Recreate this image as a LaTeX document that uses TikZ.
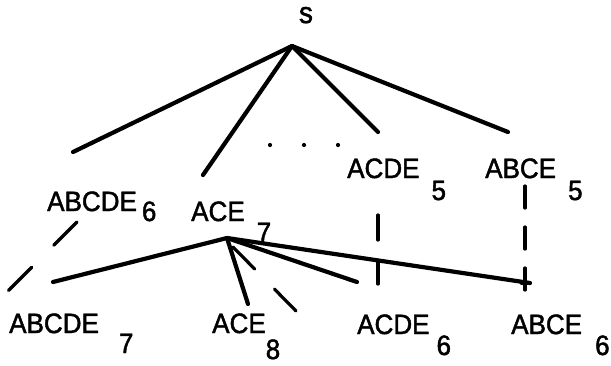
\documentclass[tikz,border=0pt]{standalone}
\usepackage{fontspec}
\newfontfamily\plotfont[FakeStretch=0.93,FakeBold=1.6]{Liberation Sans}
% label with a dropped index digit: text, gap, drop, digit
\newcommand\idxlabel[4]{#1\hspace{#2pt}\raisebox{-#3pt}{#4}}
\begin{document}
\begin{tikzpicture}[x=1pt,y=-1pt,
  lbl/.style={inner sep=0pt,anchor=base west,font=\plotfont\fontsize{28}{28}\selectfont},
  edge/.style={line width=4.2pt,line cap=round},
  link/.style={line width=3.2pt,line cap=round,dash pattern=on #1},
  link/.default={25pt off 21pt},
  dot/.style={circle,fill,inner sep=0pt,minimum size=4.2pt}]
\useasboundingbox (0,0) rectangle (611,365);

% root
\node[inner sep=0pt,anchor=base,font=\plotfont\fontsize{30}{30}\selectfont] (s) at (306,23) {s};
\coordinate (sroot) at (292,46);

% first level
\node[lbl] (abcde6) at (47,211) {\idxlabel{ABCDE}{5}{10}{6}};
\node[lbl] (ace7) at (191,221) {\idxlabel{ACE}{12}{21}{7}};
\node[lbl] (acde5) at (347,178) {\idxlabel{ACDE}{12}{22}{5}};
\node[lbl] (abce5) at (485,178) {\idxlabel{ABCE}{12}{22}{5}};

\coordinate (abcde6top) at (73,152);
\coordinate (ace7top) at (203,175);
\coordinate (acde5top) at (378,132);
\coordinate (abce5top) at (508,132);

\draw[edge] (sroot) -- (abcde6top);
\draw[edge] (sroot) -- (ace7top);
\draw[edge] (sroot) -- (acde5top);
\draw[edge] (sroot) -- (abce5top);

\node[dot] (d1) at (270,145) {};
\node[dot] (d2) at (304,145) {};
\node[dot] (d3) at (338,145) {};

% second level
\node[lbl] (abcde7) at (9,333) {\idxlabel{ABCDE}{20}{20}{7}};
\node[lbl] (ace8) at (212,333) {\idxlabel{ACE}{0}{26}{8}};
\node[lbl] (acde6) at (357,334) {\idxlabel{ACDE}{7}{21}{6}};
\node[lbl] (abce6) at (511,334) {\idxlabel{ABCE}{13}{21}{6}};

\coordinate (aceroot) at (227,238);
\coordinate (abcde7top) at (53,282);
\coordinate (ace8top) at (248,304);
\coordinate (fanstart) at (233,247);
\coordinate (fanend) at (296,311);
\coordinate (acde6top) at (357,282);
\coordinate (abce6top) at (530,283);

\draw[edge] (aceroot) -- (abcde7top);
\draw[edge] (aceroot) -- (ace8top);
\draw[link={31pt off 28pt}] (fanstart) -- (fanend);
\draw[edge] (aceroot) -- (acde6top);
\draw[edge] (aceroot) -- (abce6top);
\draw[line width=3pt,line cap=round] (521,283) -- (abce6top);

% same-set links between levels
\coordinate (l1a) at (77,222);
\coordinate (l1b) at (8,291);
\draw[link={33pt off 31pt}] (l1a) -- (l1b);
\coordinate (l2a) at (378,215);
\coordinate (l2b) at (378,284);
\draw[link={25pt off 21pt}] (l2a) -- (l2b);
\coordinate (l3a) at (525,186);
\coordinate (l3b) at (525,291);
\draw[link={22pt off 19pt}] (l3a) -- (l3b);
\end{tikzpicture}
\end{document}
